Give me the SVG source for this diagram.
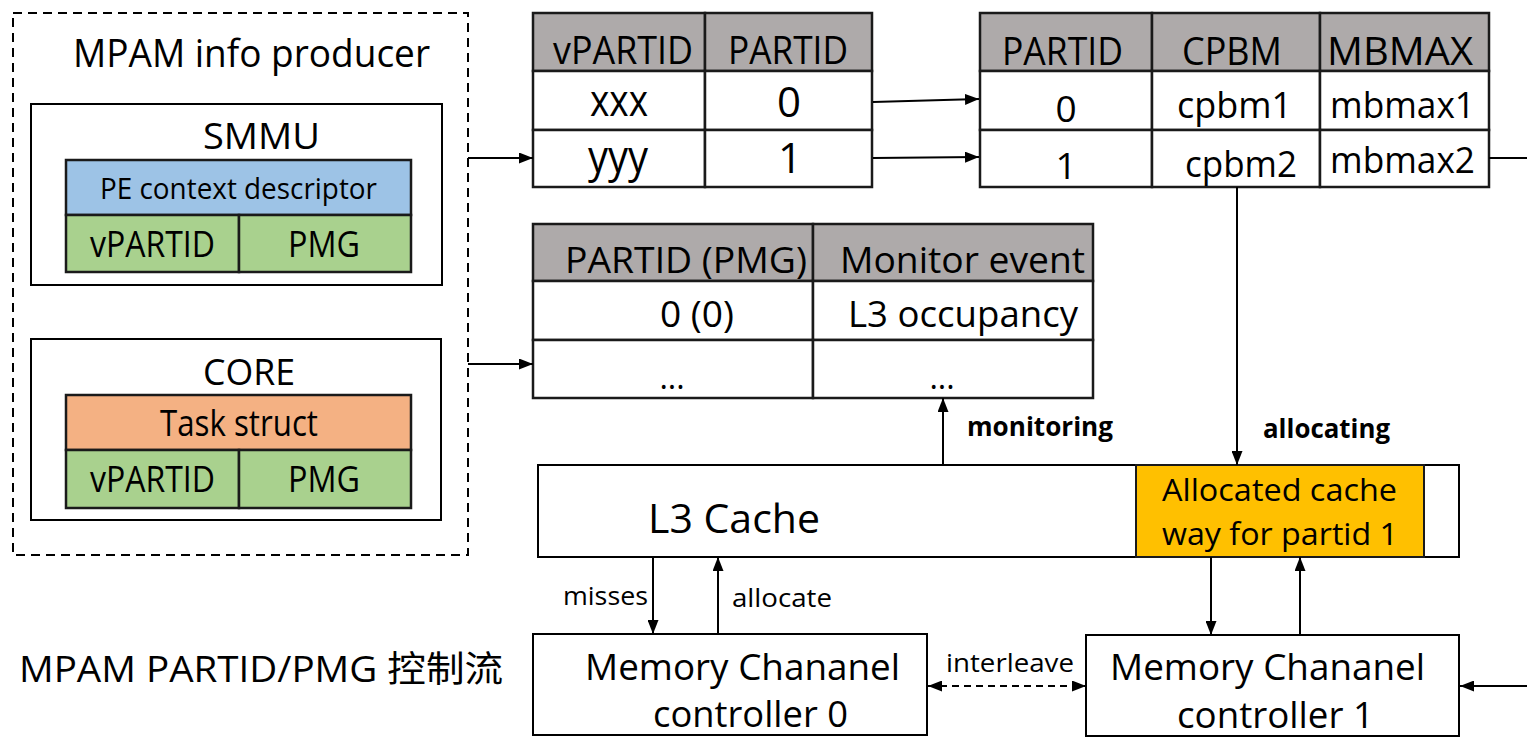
<svg xmlns="http://www.w3.org/2000/svg" width="1527" height="737" viewBox="0 0 1527 737">
<style>
text{font-family:"Open Sans","Noto Sans","Noto Sans CJK SC",sans-serif;fill:#000}
.box{fill:#fff;stroke:#000;stroke-width:2}
.cell{fill:#fff;stroke:#1a1a1a;stroke-width:2.5}
.hdr{fill:#AEAAAA;stroke:#1a1a1a;stroke-width:2.5}
.blue{fill:#9DC3E6;stroke:#1a1a1a;stroke-width:2.5}
.green{fill:#A9D18E;stroke:#1a1a1a;stroke-width:2.5}
.orange{fill:#F4B183;stroke:#1a1a1a;stroke-width:2.5}
.gold{fill:#FFC000;stroke:#1a1a1a;stroke-width:2}
.conn{fill:none;stroke:#000;stroke-width:2}
.b{font-weight:bold}
</style>
<defs>
<marker id="ah" viewBox="0 0 14 11" refX="14" refY="5.5" markerWidth="14" markerHeight="11" markerUnits="userSpaceOnUse" orient="auto-start-reverse">
<path d="M0,0 L14,5.5 L0,11 z" fill="#000"/>
</marker>
</defs>
<rect width="1527" height="737" fill="#fff"/>

<g id="producer">
<rect x="13" y="13" width="455" height="542" fill="none" stroke="#000" stroke-width="2" stroke-dasharray="9 6"/>
<text x="73" y="67" font-size="38" textLength="357" lengthAdjust="spacingAndGlyphs">MPAM info producer</text>
</g>

<g id="smmu">
<rect class="box" x="31" y="104" width="411" height="181"/>
<text x="203" y="149" font-size="37" textLength="117" lengthAdjust="spacingAndGlyphs">SMMU</text>
<rect class="blue" x="66" y="160" width="345" height="55"/>
<text x="100" y="199" font-size="30" textLength="277" lengthAdjust="spacingAndGlyphs">PE context descriptor</text>
<rect class="green" x="66" y="215" width="173" height="57"/>
<rect class="green" x="239" y="215" width="172" height="57"/>
<text x="90" y="257" font-size="36" textLength="125" lengthAdjust="spacingAndGlyphs">vPARTID</text>
<text x="288" y="257" font-size="36" textLength="72" lengthAdjust="spacingAndGlyphs">PMG</text>
</g>

<g id="core">
<rect class="box" x="31" y="339" width="410" height="181"/>
<text x="203" y="385" font-size="37" textLength="92" lengthAdjust="spacingAndGlyphs">CORE</text>
<rect class="orange" x="66" y="395" width="345" height="55"/>
<text x="160" y="436" font-size="36" textLength="158" lengthAdjust="spacingAndGlyphs">Task struct</text>
<rect class="green" x="66" y="450" width="173" height="58"/>
<rect class="green" x="239" y="450" width="172" height="58"/>
<text x="90" y="492" font-size="36" textLength="125" lengthAdjust="spacingAndGlyphs">vPARTID</text>
<text x="288" y="492" font-size="36" textLength="72" lengthAdjust="spacingAndGlyphs">PMG</text>
</g>

<g id="table-vpartid">
<rect class="hdr" x="533" y="13" width="172" height="58"/>
<rect class="hdr" x="705" y="13" width="167" height="58"/>
<rect class="cell" x="533" y="71" width="172" height="59"/>
<rect class="cell" x="705" y="71" width="167" height="59"/>
<rect class="cell" x="533" y="130" width="172" height="57"/>
<rect class="cell" x="705" y="130" width="167" height="57"/>
<text x="553" y="64" font-size="39" textLength="140" lengthAdjust="spacingAndGlyphs">vPARTID</text>
<text x="728" y="64" font-size="39" textLength="120" lengthAdjust="spacingAndGlyphs">PARTID</text>
<text x="590" y="116" font-size="44" textLength="58" lengthAdjust="spacingAndGlyphs">xxx</text>
<text x="789" y="117" font-size="42" text-anchor="middle">0</text>
<text x="588" y="172" font-size="44" textLength="60" lengthAdjust="spacingAndGlyphs">yyy</text>
<text x="790" y="173" font-size="42" text-anchor="middle">1</text>
</g>

<g id="table-partid">
<rect class="hdr" x="980" y="13" width="172" height="58"/>
<rect class="hdr" x="1152" y="13" width="168" height="58"/>
<rect class="hdr" x="1320" y="13" width="169" height="58"/>
<rect class="cell" x="980" y="71" width="172" height="59"/>
<rect class="cell" x="1152" y="71" width="168" height="59"/>
<rect class="cell" x="1320" y="71" width="169" height="59"/>
<rect class="cell" x="980" y="130" width="172" height="57"/>
<rect class="cell" x="1152" y="130" width="168" height="57"/>
<rect class="cell" x="1320" y="130" width="169" height="57"/>
<text x="1002" y="65" font-size="38" textLength="121" lengthAdjust="spacingAndGlyphs">PARTID</text>
<text x="1182" y="65" font-size="38" textLength="100" lengthAdjust="spacingAndGlyphs">CPBM</text>
<text x="1327" y="65" font-size="38" textLength="146" lengthAdjust="spacingAndGlyphs">MBMAX</text>
<text x="1066" y="122" font-size="37" text-anchor="middle">0</text>
<text x="1177" y="118" font-size="36" textLength="115" lengthAdjust="spacingAndGlyphs">cpbm1</text>
<text x="1330" y="118" font-size="36" textLength="145" lengthAdjust="spacingAndGlyphs">mbmax1</text>
<text x="1066" y="179" font-size="37" text-anchor="middle">1</text>
<text x="1185" y="177" font-size="36" textLength="112" lengthAdjust="spacingAndGlyphs">cpbm2</text>
<text x="1330" y="173" font-size="36" textLength="145" lengthAdjust="spacingAndGlyphs">mbmax2</text>
</g>

<g id="table-monitor">
<rect class="hdr" x="533" y="224" width="280" height="57"/>
<rect class="hdr" x="813" y="224" width="280" height="57"/>
<rect class="cell" x="533" y="281" width="280" height="59"/>
<rect class="cell" x="813" y="281" width="280" height="59"/>
<rect class="cell" x="533" y="340" width="280" height="58"/>
<rect class="cell" x="813" y="340" width="280" height="58"/>
<text x="565" y="273" font-size="37" textLength="242" lengthAdjust="spacingAndGlyphs">PARTID (PMG)</text>
<text x="840" y="273" font-size="37" textLength="245" lengthAdjust="spacingAndGlyphs">Monitor event</text>
<text x="660" y="327" font-size="37" textLength="74" lengthAdjust="spacingAndGlyphs">0 (0)</text>
<text x="848" y="327" font-size="37" textLength="230" lengthAdjust="spacingAndGlyphs">L3 occupancy</text>
<text x="672" y="389" font-size="32" text-anchor="middle">...</text>
<text x="942" y="389" font-size="32" text-anchor="middle">...</text>
</g>

<g id="l3cache">
<rect class="box" x="538" y="465" width="921" height="92"/>
<text x="648" y="533" font-size="41" textLength="172" lengthAdjust="spacingAndGlyphs">L3 Cache</text>
<rect class="gold" x="1136" y="465" width="288" height="92"/>
<text x="1162" y="501" font-size="31" textLength="235" lengthAdjust="spacingAndGlyphs">Allocated cache</text>
<text x="1162" y="545" font-size="31" textLength="236" lengthAdjust="spacingAndGlyphs">way for partid 1</text>
</g>

<g id="mc0">
<rect class="box" x="533" y="634" width="394" height="101"/>
<text x="585" y="680" font-size="37" textLength="315" lengthAdjust="spacingAndGlyphs">Memory Chananel</text>
<text x="653" y="727" font-size="37" textLength="195" lengthAdjust="spacingAndGlyphs">controller 0</text>
</g>

<g id="mc1">
<rect class="box" x="1086" y="635" width="373" height="101"/>
<text x="1110" y="680" font-size="37" textLength="315" lengthAdjust="spacingAndGlyphs">Memory Chananel</text>
<text x="1177" y="728" font-size="37" textLength="197" lengthAdjust="spacingAndGlyphs">controller 1</text>
</g>

<g id="caption">
<text x="19" y="682" font-size="36" textLength="484" lengthAdjust="spacingAndGlyphs">MPAM PARTID/PMG 控制流</text>
</g>

<g id="connectors">
<line class="conn" x1="468" y1="158" x2="533" y2="158" marker-end="url(#ah)"/>
<line class="conn" x1="468" y1="364" x2="533" y2="364" marker-end="url(#ah)"/>
<line class="conn" x1="873" y1="102" x2="979" y2="99" marker-end="url(#ah)"/>
<line class="conn" x1="873" y1="158" x2="979" y2="157" marker-end="url(#ah)"/>
<line class="conn" x1="1237" y1="187" x2="1237" y2="465" marker-end="url(#ah)"/>
<line class="conn" x1="1489" y1="158" x2="1527" y2="158"/>
<line class="conn" x1="943" y1="465" x2="943" y2="398" marker-end="url(#ah)"/>
<line class="conn" x1="653" y1="557" x2="653" y2="634" marker-end="url(#ah)"/>
<line class="conn" x1="718" y1="634" x2="718" y2="557" marker-end="url(#ah)"/>
<line class="conn" x1="1211" y1="557" x2="1211" y2="635" marker-end="url(#ah)"/>
<line class="conn" x1="1300" y1="635" x2="1300" y2="557" marker-end="url(#ah)"/>
<line class="conn" x1="928" y1="686" x2="1086" y2="686" stroke-dasharray="7 5" marker-start="url(#ah)" marker-end="url(#ah)"/>
<line class="conn" x1="1527" y1="686" x2="1460" y2="686" marker-end="url(#ah)"/>
<text class="b" x="967" y="436" font-size="27" textLength="146" lengthAdjust="spacingAndGlyphs">monitoring</text>
<text class="b" x="1263" y="438" font-size="27" textLength="127" lengthAdjust="spacingAndGlyphs">allocating</text>
<text x="563" y="605" font-size="26" textLength="85" lengthAdjust="spacingAndGlyphs">misses</text>
<text x="732" y="607" font-size="26" textLength="100" lengthAdjust="spacingAndGlyphs">allocate</text>
<text x="946" y="672" font-size="26" textLength="128" lengthAdjust="spacingAndGlyphs">interleave</text>
</g>
</svg>
